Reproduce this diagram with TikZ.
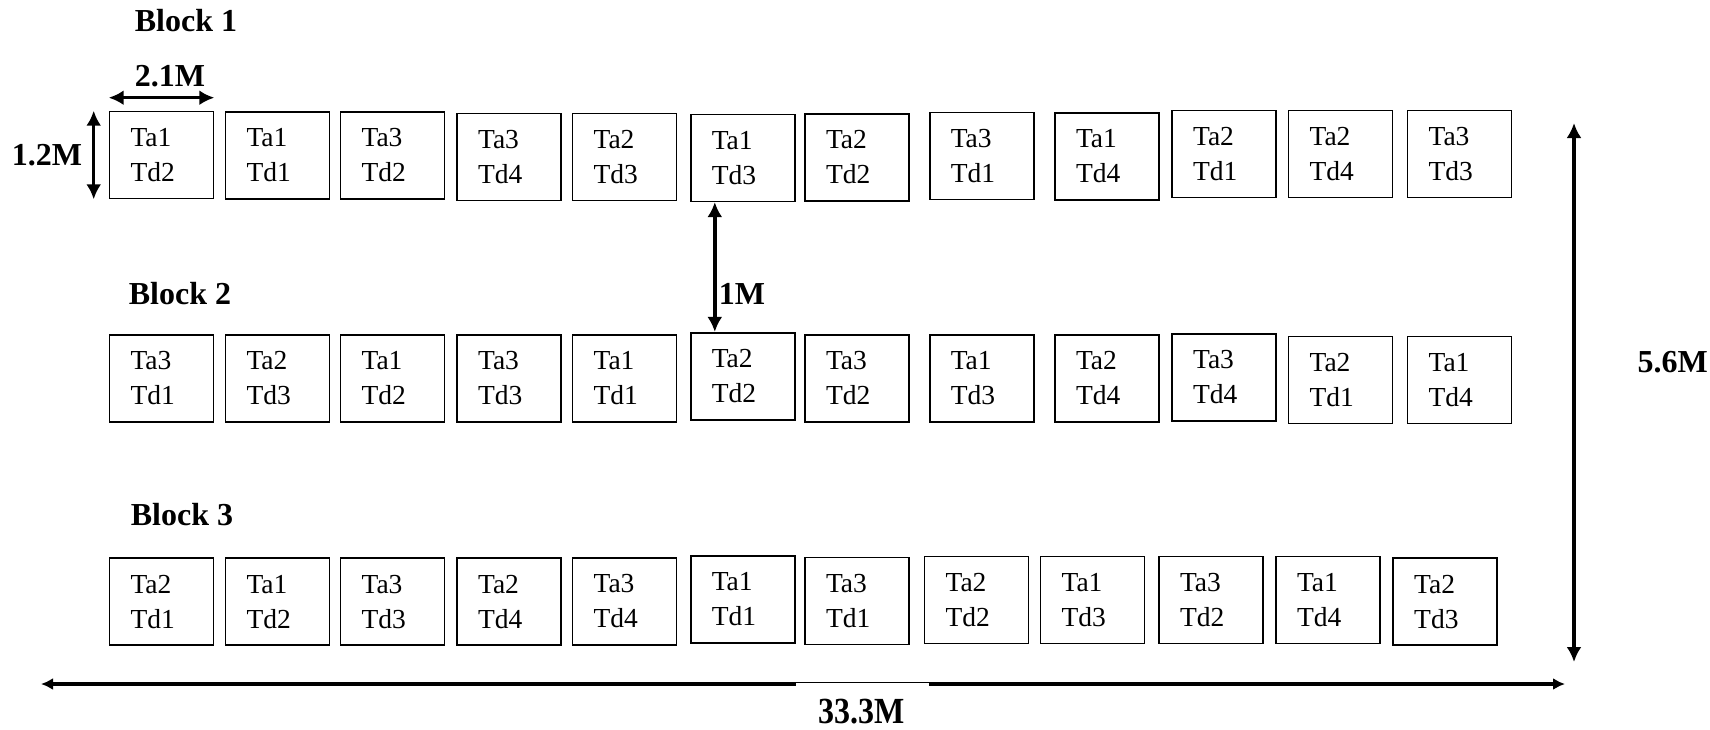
\documentclass[tikz,border=0pt]{standalone}
\usepackage{fontspec}
\setmainfont{Liberation Serif}
\usetikzlibrary{arrows.meta}

\tikzset{
  plotbox/.style={draw, line width=1.6pt, minimum height=87pt, text width=62pt,
    inner xsep=21pt, inner ysep=0pt, align=left, font=\fontsize{27.5}{35}\selectfont},
  lbl/.style={inner sep=0pt, font=\fontsize{32}{38}\selectfont\bfseries},
  dim/.style={line width=3.4pt, {Latex[length=15pt,width=15pt]}-{Latex[length=15pt,width=15pt]}},
  longdim/.style={line width=3.4pt, {Latex[length=12pt,width=12pt]}-{Latex[length=12pt,width=12pt]}}
}

\begin{document}
\begin{tikzpicture}[x=1pt, y=-1pt]
\useasboundingbox (0,0) rectangle (1710,729);

% block 1
\node[lbl] (blk1) at (186,21) {Block 1};
\foreach \x/\y/\a/\d [count=\i] in {161.5/155/1/2, 277.5/155.3/1/1, 392.6/155.3/3/2,
    509.1/157/3/4, 624.6/157/2/3, 742.8/157.8/1/3, 857/157.5/2/2, 981.8/155.8/3/1,
    1107/156.2/1/4, 1224.1/153.8/2/1, 1340.6/153.8/2/4, 1459.6/153.8/3/3}
  \node[plotbox] (r1c\i) at (\x,\y) {Ta\a\\Td\d};

% block 2
\node[lbl] (blk2) at (180,294) {Block 2};
\foreach \x/\y/\a/\d [count=\i] in {161.5/378.3/3/1, 277.5/378.3/2/3, 392.6/378.3/1/2,
    509.1/378.3/3/3, 624.6/378.3/1/1, 742.8/376.2/2/2, 857/378.3/3/2, 981.8/378.3/1/3,
    1107/378.3/2/4, 1224.1/377.5/3/4, 1340.6/380/2/1, 1459.6/380/1/4}
  \node[plotbox] (r2c\i) at (\x,\y) {Ta\a\\Td\d};

% block 3
\node[lbl] (blk3) at (182,515) {Block 3};
\foreach \x/\y/\a/\d [count=\i] in {161.5/601.7/2/1, 277.5/601.7/1/2, 392.6/601.7/3/3,
    509.1/601.7/2/4, 624.6/601.3/3/4, 742.8/599.2/1/1, 857/600.8/3/1, 976.6/600/2/2,
    1092.6/600/1/3, 1211/600/3/2, 1328/600/1/4, 1445.2/601.7/2/3}
  \node[plotbox] (r3c\i) at (\x,\y) {Ta\a\\Td\d};

% plot size
\draw[dim] ([yshift=13pt]r1c1.north west) -- ([yshift=13pt]r1c1.north east);
\node[lbl] (wd) at (170,76) {2.1M};
\draw[dim] ([xshift=-15pt]r1c1.north west) -- ([xshift=-15pt]r1c1.south west);
\node[lbl] (ht) at (47,155) {1.2M};

% gap between blocks
\draw[dim] ([xshift=-28pt]r1c6.south) -- ([xshift=-28pt]r2c6.north);
\node[lbl] (gap) at (742,294) {1M};

% field size
\coordinate (top) at (1574,123);
\coordinate (bot) at (1574,662);
\draw[dim] (top) -- (bot);
\node[lbl, anchor=east] (fh) at (1708,362) {5.6M};

\coordinate (left) at (41,684);
\coordinate (right) at (1565,684);
\draw[longdim] (left) -- (right);
\node[lbl, fill=white, minimum width=133pt, minimum height=62pt] (fw) at (862,714)
  {\raisebox{6pt}{\scalebox{1}[1.15]{33.3M}}};
\end{tikzpicture}
\end{document}
